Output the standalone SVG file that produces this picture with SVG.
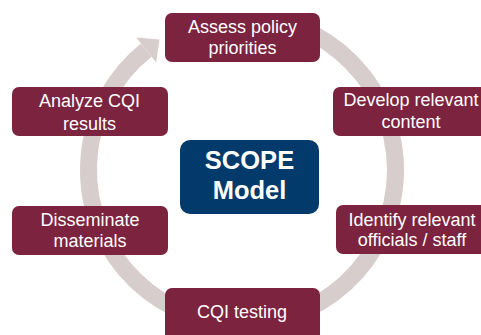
<svg xmlns="http://www.w3.org/2000/svg" width="481" height="335" viewBox="0 0 481 335">
<style>
.step rect{fill:#7b233f;}
.lbl{font-family:"Liberation Sans",Arial,sans-serif;font-size:18px;fill:#ffffff;text-anchor:middle;}
.center rect{fill:#023a6b;}
.ctr{font-family:"Liberation Sans",Arial,sans-serif;font-size:25.5px;font-weight:bold;fill:#ffffff;text-anchor:middle;}
.ring{fill:none;stroke:#d8cdcd;stroke-width:17;}
</style>
<rect width="481" height="335" fill="#ffffff"/>
<g id="connectors">
<path class="ring" d="M314.07,34.47 A153.5,153.5 0 1 1 146.23,50.04"/>
<polygon points="136.25,37.54 159.5,39.4 156.21,62.54" fill="#d8cdcd"/>
</g>
<g id="assess" class="step">
<rect x="165" y="13" width="155" height="49" rx="7"/>
<text class="lbl" x="242.5" y="33">Assess policy</text>
<text class="lbl" x="242.5" y="53.5">priorities</text>
</g>
<g id="develop" class="step">
<rect x="333" y="87" width="160" height="49" rx="7"/>
<text class="lbl" x="411" y="106">Develop relevant</text>
<text class="lbl" x="411" y="128">content</text>
</g>
<g id="identify" class="step">
<rect x="336" y="205" width="160" height="49" rx="7"/>
<text class="lbl" x="412" y="226">Identify relevant</text>
<text class="lbl" x="412" y="246">officials / staff</text>
</g>
<g id="cqi-testing" class="step">
<rect x="165" y="288" width="155" height="60" rx="7"/>
<text class="lbl" x="242" y="318">CQI testing</text>
</g>
<g id="disseminate" class="step">
<rect x="12" y="206" width="156" height="49" rx="7"/>
<text class="lbl" x="90" y="226">Disseminate</text>
<text class="lbl" x="90" y="247">materials</text>
</g>
<g id="analyze" class="step">
<rect x="12" y="87" width="156" height="49" rx="7"/>
<text class="lbl" x="89.5" y="107">Analyze CQI</text>
<text class="lbl" x="89.5" y="130">results</text>
</g>
<g id="scope" class="center">
<rect x="180" y="140" width="139" height="74" rx="10"/>
<text class="ctr" x="249.5" y="169">SCOPE</text>
<text class="ctr" x="249.5" y="199">Model</text>
</g>
</svg>
